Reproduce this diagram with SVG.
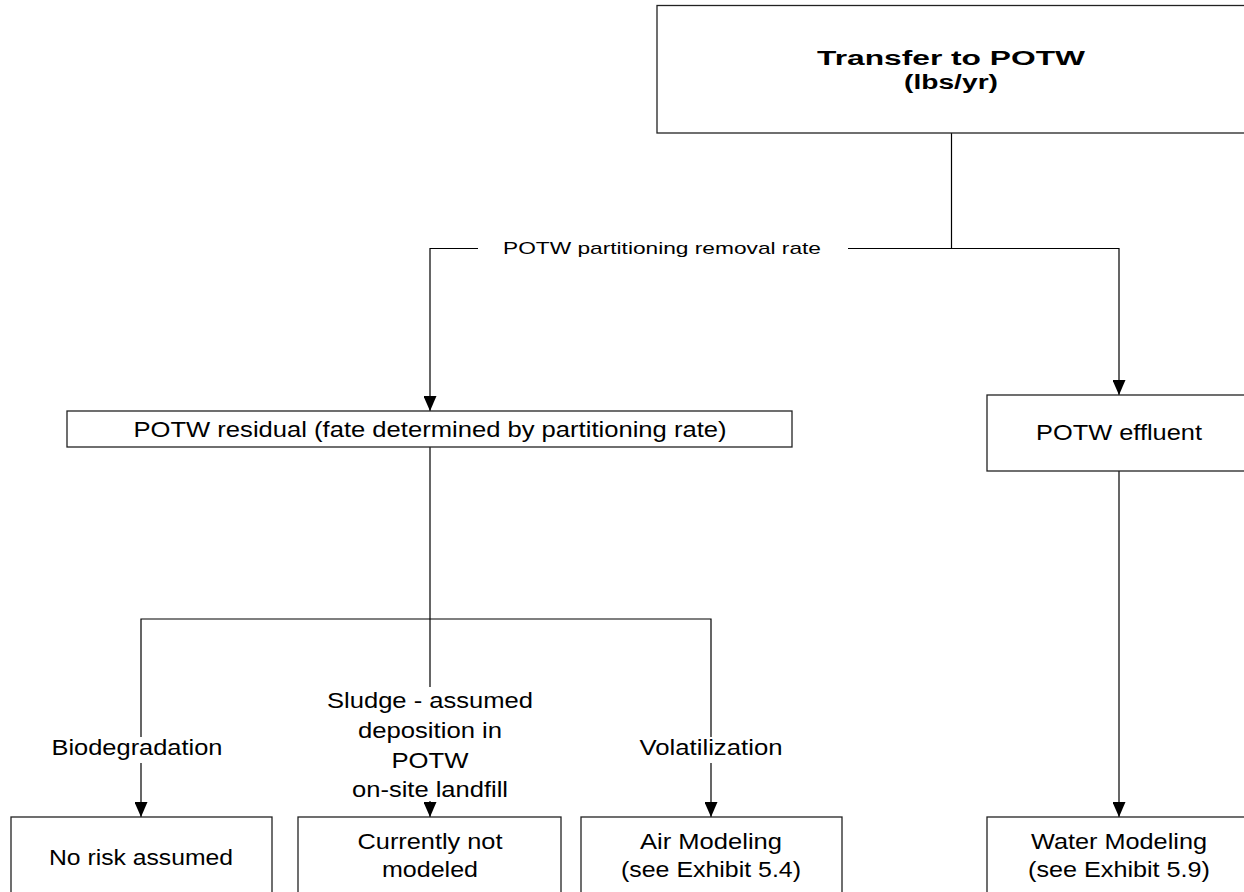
<svg xmlns="http://www.w3.org/2000/svg" width="1244" height="892" viewBox="0 0 1244 892">
<style>
.box{fill:#fff;stroke:#222;stroke-width:1.3}
.ln{fill:none;stroke:#000;stroke-width:1.2}
text{font-family:"Liberation Sans",Arial,sans-serif;fill:#000;text-anchor:middle}
.t{font-size:22px}
.b{font-size:20px;font-weight:bold}
.s{font-size:17px}
</style>
<defs>
<marker id="ah" viewBox="0 0 15 13" refX="15" refY="6.5" markerWidth="15" markerHeight="13" orient="auto" markerUnits="userSpaceOnUse">
<path d="M0,0 L15,6.5 L0,13 Z" fill="#000"/>
</marker>
</defs>
<rect width="1244" height="892" fill="#fff"/>
<g id="connectors">
<path class="ln" d="M951.5,133 V248.5 M848,248.5 H1119 V395" marker-end="url(#ah)"/>
<path class="ln" d="M478,248.5 H430 V411" marker-end="url(#ah)"/>
<path class="ln" d="M430,447 V687 M141,737 V619 H711 V737"/>
<path class="ln" d="M141,763 V817" marker-end="url(#ah)"/>
<path class="ln" d="M430,801 V817" marker-end="url(#ah)"/>
<path class="ln" d="M711,763 V817" marker-end="url(#ah)"/>
<path class="ln" d="M1119,471 V817" marker-end="url(#ah)"/>
<text class="s" x="662" y="254" textLength="318" lengthAdjust="spacingAndGlyphs">POTW partitioning removal rate</text>
<text class="t" x="137" y="755" textLength="171" lengthAdjust="spacingAndGlyphs">Biodegradation</text>
<text class="t" x="430" y="708" textLength="206" lengthAdjust="spacingAndGlyphs">Sludge - assumed</text>
<text class="t" x="430" y="738" textLength="144" lengthAdjust="spacingAndGlyphs">deposition in</text>
<text class="t" x="430" y="768" textLength="77" lengthAdjust="spacingAndGlyphs">POTW</text>
<text class="t" x="430" y="797" textLength="156" lengthAdjust="spacingAndGlyphs">on-site landfill</text>
<text class="t" x="711" y="755" textLength="143" lengthAdjust="spacingAndGlyphs">Volatilization</text>
</g>
<g id="transfer">
<rect class="box" x="657" y="5.5" width="590" height="127.5"/>
<text class="b" x="951" y="65" textLength="268" lengthAdjust="spacingAndGlyphs">Transfer to POTW</text>
<text class="b" x="951" y="89" textLength="94" lengthAdjust="spacingAndGlyphs">(lbs/yr)</text>
</g>
<g id="residual">
<rect class="box" x="67" y="411" width="725" height="36"/>
<text class="t" x="430" y="437" textLength="593" lengthAdjust="spacingAndGlyphs">POTW residual (fate determined by partitioning rate)</text>
</g>
<g id="effluent">
<rect class="box" x="987" y="395" width="265" height="76"/>
<text class="t" x="1119" y="440" textLength="166" lengthAdjust="spacingAndGlyphs">POTW effluent</text>
</g>
<g id="norisk">
<rect class="box" x="11" y="817" width="261" height="90"/>
<text class="t" x="141" y="865" textLength="184" lengthAdjust="spacingAndGlyphs">No risk assumed</text>
</g>
<g id="notmodeled">
<rect class="box" x="298" y="817" width="263" height="90"/>
<text class="t" x="430" y="849" textLength="145" lengthAdjust="spacingAndGlyphs">Currently not</text>
<text class="t" x="430" y="877" textLength="96" lengthAdjust="spacingAndGlyphs">modeled</text>
</g>
<g id="air">
<rect class="box" x="581" y="817" width="261" height="90"/>
<text class="t" x="711" y="849" textLength="142" lengthAdjust="spacingAndGlyphs">Air Modeling</text>
<text class="t" x="711" y="877" textLength="180" lengthAdjust="spacingAndGlyphs">(see Exhibit 5.4)</text>
</g>
<g id="water">
<rect class="box" x="987" y="817" width="265" height="90"/>
<text class="t" x="1119" y="849" textLength="176" lengthAdjust="spacingAndGlyphs">Water Modeling</text>
<text class="t" x="1119" y="877" textLength="182" lengthAdjust="spacingAndGlyphs">(see Exhibit 5.9)</text>
</g>
</svg>
